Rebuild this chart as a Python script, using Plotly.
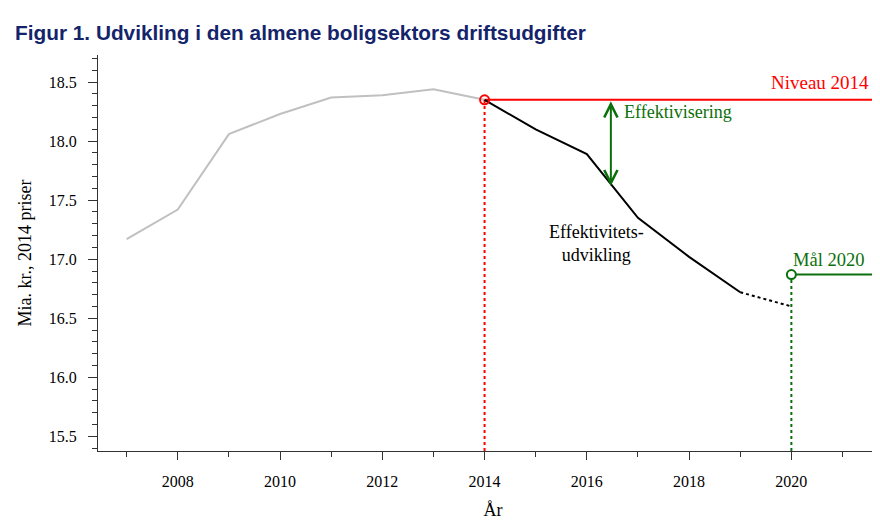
import plotly.graph_objects as go

# ---- data ----
years_hist = [2007, 2008, 2009, 2010, 2011, 2012, 2013, 2014]
values_hist = [17.17, 17.42, 18.06, 18.23, 18.37, 18.39, 18.44, 18.35]
years_proj = [2014, 2015, 2016, 2017, 2018, 2019]
values_proj = [18.35, 18.10, 17.89, 17.35, 17.02, 16.72]
years_dotted = [2019, 2020]
values_dotted = [16.72, 16.60]
level_year = 2014
level_value = 18.35
goal_year = 2020
goal_value = 16.87
arrow_year = 2016.47
arrow_bottom = 17.62

x_range = [2006.44, 2021.89]
y_range = [15.375, 18.73]

SERIF = "Liberation Serif, Times New Roman, serif"
RED = "#ff0000"
GREEN = "#0b700b"
GRAY = "#c0c0c0"
AXIS = "#333333"

fig = go.Figure()

fig.add_trace(go.Scatter(x=years_hist, y=values_hist, mode="lines",
                         line=dict(color=GRAY, width=2), showlegend=False))
# level 2014
fig.add_trace(go.Scatter(x=[level_year, x_range[1]], y=[level_value, level_value], mode="lines",
                         line=dict(color=RED, width=2), showlegend=False))
fig.add_trace(go.Scatter(x=[level_year, level_year], y=[y_range[0], level_value], mode="lines",
                         line=dict(color=RED, width=2, dash="dot"), showlegend=False))
# goal 2020
fig.add_trace(go.Scatter(x=[goal_year, x_range[1]], y=[goal_value, goal_value], mode="lines",
                         line=dict(color=GREEN, width=2), showlegend=False))
fig.add_trace(go.Scatter(x=[goal_year, goal_year], y=[y_range[0], goal_value], mode="lines",
                         line=dict(color=GREEN, width=2, dash="dot"), showlegend=False))
# projection
fig.add_trace(go.Scatter(x=years_proj, y=values_proj, mode="lines",
                         line=dict(color="black", width=2), showlegend=False))
fig.add_trace(go.Scatter(x=years_dotted, y=values_dotted, mode="lines",
                         line=dict(color="black", width=2, dash="dot"), showlegend=False))
# circles
fig.add_trace(go.Scatter(x=[level_year], y=[level_value], mode="markers",
                         marker=dict(symbol="circle-open", size=9, color=RED, line=dict(width=2)),
                         showlegend=False))
fig.add_trace(go.Scatter(x=[goal_year], y=[goal_value], mode="markers",
                         marker=dict(symbol="circle", size=9, color="white", line=dict(width=2, color=GREEN)),
                         showlegend=False))

fig.add_annotation(x=arrow_year, y=arrow_bottom, ax=arrow_year, ay=level_value,
                   xref="x", yref="y", axref="x", ayref="y", text="",
                   showarrow=True, arrowhead=5, startarrowhead=5, arrowside="end+start",
                   arrowsize=1.3, startarrowsize=1.3,
                   arrowwidth=2, arrowcolor=GREEN, standoff=0, startstandoff=0)

fig.add_annotation(x=2021.55, y=18.5, xref="x", yref="y", text="Niveau 2014",
                   showarrow=False, xanchor="right", yanchor="middle",
                   font=dict(family=SERIF, size=19, color=RED))
fig.add_annotation(x=2016.69, y=18.25, xref="x", yref="y", text="Effektivisering",
                   showarrow=False, xanchor="left", yanchor="middle",
                   font=dict(family=SERIF, size=18, color=GREEN))
fig.add_annotation(x=2016.19, y=17.13, xref="x", yref="y", text="Effektivitets-<br>udvikling",
                   showarrow=False, xanchor="center", yanchor="middle", align="center",
                   font=dict(family=SERIF, size=18, color="black"))
fig.add_annotation(x=2019.99, y=16.99, xref="x", yref="y", text="Mål 2020",
                   showarrow=False, xanchor="left", yanchor="middle",
                   font=dict(family=SERIF, size=18.5, color=GREEN))

fig.update_layout(
    width=880, height=521,
    margin=dict(l=90, r=0, t=47, b=78),
    paper_bgcolor="white", plot_bgcolor="white",
    title=dict(text="Figur 1. Udvikling i den almene boligsektors driftsudgifter",
               x=7 / 880, xref="container", xanchor="left",
               y=1 - 25 / 521, yref="container", yanchor="middle",
               font=dict(family="Liberation Sans, Arial, sans-serif", size=20.8, color="#14246b", weight="bold")),
    font=dict(family=SERIF, size=16, color="black"),
)
fig.update_xaxes(range=x_range, showgrid=False, zeroline=False, automargin=False,
                 showline=True, linecolor=AXIS, linewidth=1,
                 tickmode="linear", tick0=2008, dtick=2, ticks="outside", ticklen=8,
                 tickcolor=AXIS, ticklabelstandoff=8,
                 minor=dict(tickmode="linear", tick0=2007, dtick=1, ticks="outside", ticklen=5, tickcolor=AXIS),
                 tickfont=dict(family=SERIF, size=16, color="black"),
                 title=dict(text="År", font=dict(family=SERIF, size=18), standoff=14))
fig.update_yaxes(range=y_range, showgrid=False, zeroline=False, automargin=False,
                 showline=True, linecolor=AXIS, linewidth=1,
                 tickmode="linear", tick0=15.5, dtick=0.5, tickformat=".1f",
                 ticks="outside", ticklen=9, tickcolor=AXIS, ticklabelstandoff=8,
                 minor=dict(tickmode="linear", tick0=15.5, dtick=0.1, ticks="outside", ticklen=5, tickcolor=AXIS),
                 tickfont=dict(family=SERIF, size=16, color="black"),
                 title=dict(text="Mia. kr., 2014 priser", font=dict(family=SERIF, size=18), standoff=12))

fig.write_html("out.html")
